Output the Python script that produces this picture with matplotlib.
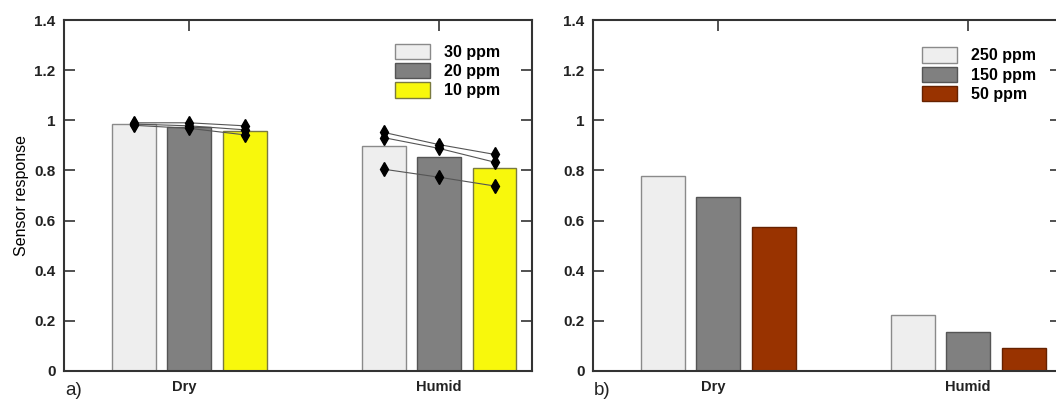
import numpy as np
import matplotlib.pyplot as plt

plt.rcParams['font.family'] = ['Liberation Sans', 'DejaVu Sans']

conditions = ['Dry', 'Humid']

# panel a) - bars are the mean of three sensors
conc_a = ['30 ppm', '20 ppm', '10 ppm']
resp_a = [[0.984, 0.975, 0.959],
          [0.897, 0.853, 0.811]]
# individual sensor responses (one line per sensor)
dry_sensors = [[0.990, 0.990, 0.978],
               [0.985, 0.978, 0.962],
               [0.980, 0.968, 0.942]]
humid_sensors = [[0.952, 0.903, 0.864],
                 [0.931, 0.888, 0.833],
                 [0.805, 0.773, 0.738]]

# panel b)
conc_b = ['250 ppm', '150 ppm', '50 ppm']
resp_b = [[0.779, 0.694, 0.574],
          [0.222, 0.156, 0.092]]

colors_a = ['#eeeeee', '#808080', '#f8f80c']
edges_a = ['#8a8a8a', '#555555', '#7a7a40']
colors_b = ['#eeeeee', '#808080', '#993300']
edges_b = ['#8a8a8a', '#555555', '#662200']

width = 0.176
pitch = 0.222
x = np.array([1.0, 2.0])

fig = plt.figure(figsize=(10.56, 4.01), dpi=100)
ax1 = fig.add_axes([64/1056, 30/401, 468/1056, 351/401])
ax2 = fig.add_axes([593/1056, 30/401, 468/1056, 351/401])


def style(ax, tag):
    ax.set_xlim(0.5, 2.372)
    ax.set_ylim(0, 1.4)
    ax.set_yticks(np.arange(0, 1.41, 0.2))
    ax.set_yticklabels(['0', '0.2', '0.4', '0.6', '0.8', '1', '1.2', '1.4'])
    ax.set_xticks(x)
    ax.set_xticklabels([])
    ax.tick_params(axis='y', direction='in', right=True, length=8, width=1.2,
                   labelsize=11, color='#333333', pad=6)
    ax.tick_params(axis='x', direction='in', top=True, bottom=False, length=8,
                   width=1.2, color='#333333')
    for lab in ax.get_yticklabels():
        lab.set_fontweight('bold')
        lab.set_color('#222222')
    for sp in ax.spines.values():
        sp.set_linewidth(1.5)
        sp.set_color('#333333')
    for xi, name in zip(x, conditions):
        ax.text(xi - (0.02 if name == 'Dry' else 0), -0.064, name,
                ha='center', va='center', fontsize=10.5, fontweight='bold',
                color='#222222', clip_on=False)
    ax.text(0.505, -0.078, tag, fontsize=13.5, ha='left', va='center',
            color='#222222', clip_on=False)


# panel a
for j in range(3):
    ax1.bar(x + (j - 1) * pitch, [r[j] for r in resp_a], width,
            color=colors_a[j], edgecolor=edges_a[j], linewidth=1,
            label=conc_a[j], zorder=2)
for sensors, xi in [(dry_sensors, x[0]), (humid_sensors, x[1])]:
    xs = xi + (np.arange(3) - 1) * pitch
    for s in sensors:
        ax1.plot(xs, s, color='#555555', linewidth=0.8, marker='d',
                 markersize=7, markerfacecolor='black', markeredgecolor='black',
                 zorder=3)
style(ax1, 'a)')
ax1.set_ylabel('Sensor response', fontsize=11.5, labelpad=4)
ax1.legend(loc='upper left', bbox_to_anchor=(0.69, 0.955), frameon=False,
           prop={'weight': 'bold', 'size': 11.5}, handlelength=2.2,
           handleheight=1.1, labelspacing=0.2, handletextpad=0.9,
           borderpad=0)

# panel b
for j in range(3):
    ax2.bar(x + (j - 1) * pitch, [r[j] for r in resp_b], width,
            color=colors_b[j], edgecolor=edges_b[j], linewidth=1,
            label=conc_b[j], zorder=2)
style(ax2, 'b)')
ax2.legend(loc='upper left', bbox_to_anchor=(0.685, 0.945), frameon=False,
           prop={'weight': 'bold', 'size': 11.5}, handlelength=2.2,
           handleheight=1.1, labelspacing=0.2, handletextpad=0.9,
           borderpad=0)

fig.savefig('out.png', dpi=100)
